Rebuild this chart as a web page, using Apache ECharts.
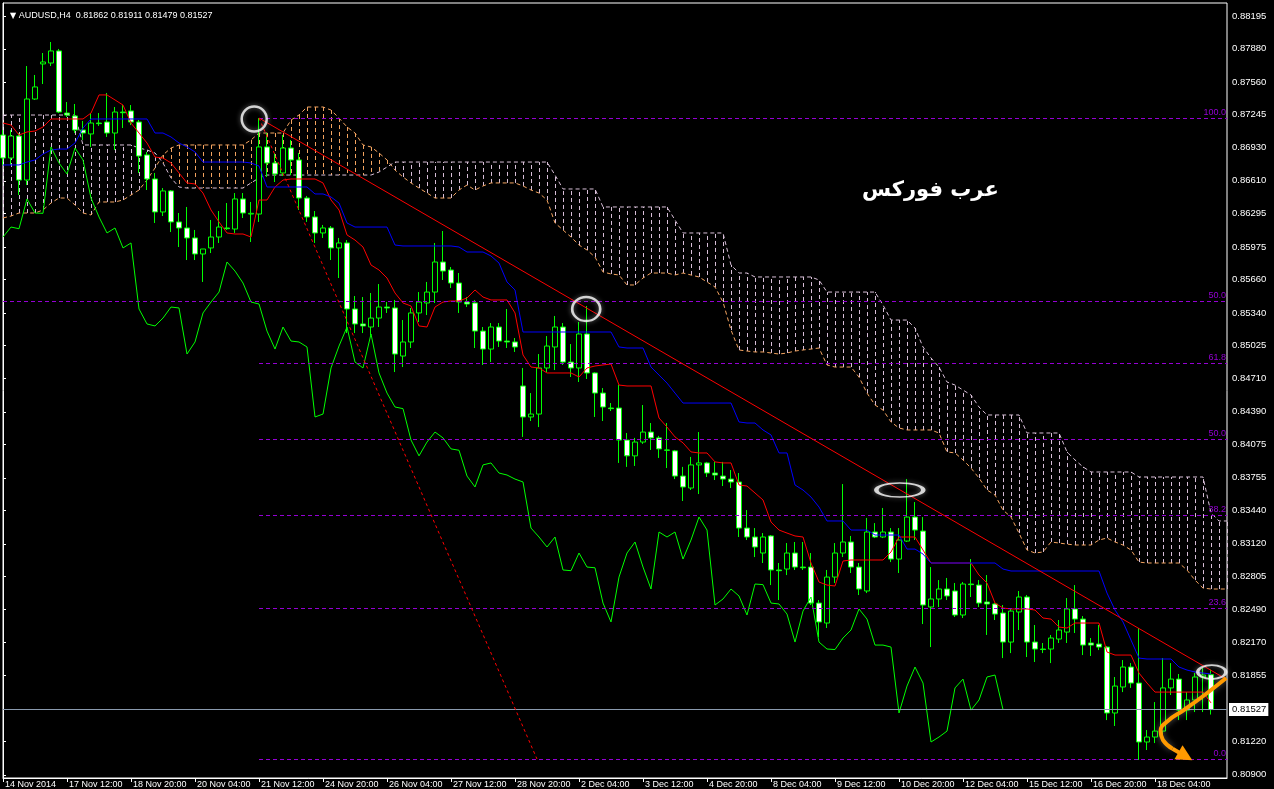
<!DOCTYPE html>
<html><head><meta charset="utf-8">
<script src="https://cdn.jsdelivr.net/npm/echarts@6/dist/echarts.min.js"></script>
<style>html,body{margin:0;padding:0;background:#000;}#c{width:1274px;height:789px;}</style>
</head><body><div id="c"></div>
<script>
// ---- time labels (every 8th H4 bar) ----
const timeLabels = ["14 Nov 2014","17 Nov 12:00","18 Nov 20:00","20 Nov 04:00","21 Nov 12:00","24 Nov 20:00","26 Nov 04:00","27 Nov 12:00","28 Nov 20:00","2 Dec 04:00","3 Dec 12:00","4 Dec 20:00","8 Dec 04:00","9 Dec 12:00","10 Dec 20:00","12 Dec 04:00","15 Dec 12:00","16 Dec 20:00","18 Dec 04:00"];
const yTicks = [0.88195,0.87880,0.87560,0.87245,0.86930,0.86610,0.86295,0.85975,0.85660,0.85340,0.85025,0.84710,0.84390,0.84075,0.83755,0.83440,0.83120,0.82805,0.82490,0.82170,0.81855,0.81220,0.80900];

// ---- candles ----
const opens = [0.87051,0.86830,0.87041,0.86618,0.87397,0.87734,0.87743,0.87859,0.87262,0.87234,
0.87099,0.87061,0.87166,0.87176,0.87070,0.87272,0.87282,0.87176,0.86859,0.86628,
0.86311,0.86513,0.86215,0.86157,0.86061,0.85907,0.85965,0.86070,0.86157,0.86147,
0.86436,0.86291,0.86291,0.86936,0.86782,0.86686,0.86926,0.86811,0.86445,0.86263,
0.86109,0.86157,0.85965,0.86013,0.85378,0.85234,0.85205,0.85291,0.85397,0.85388,
0.84926,0.85061,0.85340,0.85436,0.85541,0.85830,0.85753,0.85628,0.85445,0.85436,
0.85166,0.84993,0.85205,0.85070,0.85061,0.84638,0.84340,0.84368,0.84811,0.85013,
0.85205,0.84868,0.84811,0.85138,0.84763,0.84570,0.84426,0.84426,0.84118,0.83966,
0.84099,0.84195,0.84139,0.84023,0.84014,0.83772,0.83657,0.83879,0.83898,0.83801,
0.83772,0.83743,0.83715,0.83272,0.83186,0.83032,0.83196,0.82869,0.82878,0.83032,
0.82897,0.82897,0.82551,0.82359,0.82801,0.83032,0.83138,0.82897,0.82667,0.83234,
0.83186,0.83234,0.82974,0.83147,0.83378,0.83243,0.82513,0.82590,0.82686,0.82667,
0.82436,0.82734,0.82724,0.82561,0.82542,0.82455,0.82176,0.82465,0.82609,0.82176,
0.82109,0.82109,0.82205,0.82272,0.82494,0.82397,0.82167,0.82157,0.82128,0.81494,
0.81744,0.81936,0.81782,0.81215,0.81263,0.81320,0.81735,0.81820,0.81522,0.81619,
0.81840,0.81862];
const highs = [0.87099,0.87099,0.87070,0.87714,0.87628,0.87839,0.87945,0.87878,0.87368,0.87349,
0.87186,0.87262,0.87262,0.87455,0.87320,0.87339,0.87339,0.87195,0.86888,0.86686,
0.86541,0.86522,0.86301,0.86359,0.86138,0.85955,0.86234,0.86320,0.86397,0.86493,
0.86493,0.86407,0.87214,0.87070,0.86878,0.87051,0.87003,0.86878,0.86465,0.86320,
0.86186,0.86176,0.86061,0.86041,0.85503,0.85493,0.85532,0.85618,0.85445,0.85465,
0.85272,0.85388,0.85541,0.85638,0.86013,0.86128,0.85782,0.85724,0.85493,0.85465,
0.85205,0.85243,0.85243,0.85378,0.85099,0.84811,0.84570,0.84945,0.85118,0.85311,
0.85243,0.85041,0.85253,0.85407,0.84770,0.84618,0.84474,0.84647,0.84186,0.84139,
0.84455,0.84282,0.84158,0.84282,0.84023,0.83860,0.83956,0.84195,0.83908,0.83908,
0.83908,0.83830,0.83801,0.83445,0.83272,0.83224,0.83205,0.82936,0.83128,0.83138,
0.83138,0.83032,0.82580,0.82869,0.83128,0.83695,0.83196,0.82936,0.83369,0.83320,
0.83465,0.83272,0.83272,0.83743,0.83522,0.83378,0.82897,0.82772,0.82792,0.82744,
0.82753,0.82974,0.82772,0.82820,0.82551,0.82532,0.82494,0.82667,0.82628,0.82340,
0.82167,0.82244,0.82388,0.82599,0.82724,0.82426,0.82215,0.82340,0.82138,0.81840,
0.82003,0.81974,0.82311,0.81330,0.81599,0.82022,0.81974,0.81869,0.81695,0.81878,
0.81926,0.81911];
const lows = [0.86763,0.86763,0.86474,0.86570,0.87388,0.87541,0.87714,0.87262,0.87224,0.87070,
0.87003,0.86936,0.87138,0.87032,0.86907,0.87118,0.87147,0.86686,0.86522,0.86205,
0.86272,0.86118,0.85974,0.85849,0.85849,0.85638,0.85916,0.86013,0.86138,0.86109,
0.86253,0.86022,0.86215,0.86647,0.86599,0.86657,0.86666,0.86330,0.86215,0.86013,
0.86061,0.85849,0.85676,0.85147,0.85147,0.85147,0.85128,0.85205,0.85340,0.84772,
0.84820,0.85003,0.85253,0.85320,0.85436,0.85657,0.85580,0.85340,0.85397,0.85003,
0.84840,0.84868,0.85013,0.85003,0.84965,0.84148,0.84301,0.84243,0.84772,0.84791,
0.84840,0.84724,0.84676,0.84705,0.84340,0.84301,0.84397,0.83898,0.83860,0.83869,
0.84081,0.84023,0.83946,0.83849,0.83743,0.83532,0.83638,0.83599,0.83763,0.83734,
0.83676,0.83657,0.83186,0.83157,0.82993,0.82936,0.82724,0.82580,0.82820,0.82869,
0.82869,0.82532,0.82224,0.82311,0.82744,0.82993,0.82840,0.82628,0.82647,0.83176,
0.83176,0.82945,0.82840,0.83138,0.83157,0.82349,0.82128,0.82513,0.82580,0.82417,
0.82407,0.82609,0.82513,0.82244,0.82388,0.82022,0.82070,0.82292,0.82032,0.81984,
0.82070,0.81974,0.82167,0.82167,0.82263,0.82051,0.82042,0.82099,0.81426,0.81369,
0.81695,0.81735,0.81042,0.81138,0.81205,0.81263,0.81667,0.81426,0.81426,0.81503,
0.81503,0.81479];
const closes = [0.86830,0.87041,0.86618,0.87397,0.87513,0.87753,0.87859,0.87272,0.87243,0.87099,
0.87070,0.87166,0.87160,0.87070,0.87272,0.87265,0.87176,0.86849,0.86628,0.86311,
0.86513,0.86215,0.86157,0.86061,0.85907,0.85955,0.86070,0.86166,0.86150,0.86436,
0.86301,0.86298,0.86936,0.86782,0.86676,0.86926,0.86811,0.86445,0.86263,0.86109,
0.86157,0.85965,0.86013,0.85378,0.85234,0.85215,0.85291,0.85397,0.85388,0.84945,
0.85061,0.85340,0.85445,0.85541,0.85830,0.85743,0.85628,0.85445,0.85426,0.85166,
0.84993,0.85205,0.85070,0.85061,0.85013,0.84340,0.84368,0.84811,0.85022,0.85205,
0.84868,0.84811,0.85138,0.84763,0.84570,0.84436,0.84420,0.84118,0.83966,0.84099,
0.84195,0.84139,0.84033,0.84020,0.83772,0.83667,0.83879,0.83898,0.83801,0.83782,
0.83743,0.83715,0.83272,0.83186,0.83090,0.83186,0.82869,0.82862,0.83032,0.82897,
0.82890,0.82551,0.82369,0.82801,0.83032,0.83138,0.82897,0.82686,0.83234,0.83186,
0.83234,0.82974,0.83157,0.83378,0.83253,0.82532,0.82590,0.82686,0.82619,0.82436,
0.82734,0.82728,0.82551,0.82542,0.82445,0.82176,0.82474,0.82609,0.82176,0.82109,
0.82104,0.82215,0.82292,0.82494,0.82397,0.82147,0.82147,0.82128,0.81494,0.81753,
0.81936,0.81782,0.81215,0.81263,0.81320,0.81735,0.81820,0.81522,0.81619,0.81840,
0.81859,0.81527];

// ---- Ichimoku lines ----
const tenkan = [0.87166,0.87147,0.87051,0.87080,0.87089,0.87128,0.87205,0.87205,0.87205,0.87205,
0.87205,0.87262,0.87436,0.87436,0.87388,0.87339,0.87166,0.87070,0.86974,0.86839,
0.86830,0.86782,0.86686,0.86590,0.86580,0.86493,0.86330,0.86215,0.86109,0.86099,
0.86099,0.86070,0.86426,0.86426,0.86551,0.86618,0.86628,0.86628,0.86628,0.86628,
0.86590,0.86426,0.86330,0.86090,0.86041,0.85974,0.85801,0.85753,0.85676,0.85532,
0.85436,0.85407,0.85215,0.85205,0.85397,0.85445,0.85455,0.85455,0.85484,0.85561,
0.85493,0.85465,0.85465,0.85465,0.85340,0.84936,0.84820,0.84811,0.84763,0.84763,
0.84763,0.84763,0.84724,0.84811,0.84830,0.84840,0.84849,0.84647,0.84638,0.84638,
0.84638,0.84638,0.84330,0.84243,0.84148,0.84091,0.84004,0.83994,0.83994,0.83908,
0.83898,0.83898,0.83686,0.83676,0.83609,0.83542,0.83330,0.83253,0.83224,0.83196,
0.83186,0.82936,0.82753,0.82724,0.82715,0.82955,0.82965,0.82965,0.82965,0.82965,
0.82965,0.83042,0.83186,0.83186,0.83186,0.83061,0.82936,0.82936,0.82936,0.82936,
0.82936,0.82936,0.82820,0.82744,0.82551,0.82503,0.82494,0.82494,0.82494,0.82484,
0.82407,0.82397,0.82320,0.82311,0.82359,0.82359,0.82359,0.82359,0.82080,0.82051,
0.82051,0.82051,0.81878,0.81782,0.81695,0.81695,0.81695,0.81695,0.81695,0.81695,
0.81695,0.81591];
const kijun = [0.86763,0.86763,0.86763,0.86791,0.86811,0.86868,0.86907,0.86916,0.86916,0.86974,
0.87118,0.87205,0.87205,0.87205,0.87205,0.87205,0.87205,0.87205,0.87205,0.87070,
0.87070,0.87032,0.86974,0.86936,0.86888,0.86791,0.86791,0.86791,0.86791,0.86791,
0.86791,0.86782,0.86753,0.86551,0.86551,0.86551,0.86551,0.86551,0.86551,0.86484,
0.86484,0.86455,0.86397,0.86205,0.86166,0.86166,0.86166,0.86166,0.86166,0.85993,
0.85984,0.85984,0.85984,0.85984,0.85984,0.85984,0.85984,0.85974,0.85926,0.85926,
0.85926,0.85888,0.85820,0.85638,0.85561,0.85157,0.85157,0.85157,0.85157,0.85157,
0.85157,0.85157,0.85157,0.85157,0.85157,0.85157,0.85157,0.85013,0.85003,0.85003,
0.85003,0.84820,0.84743,0.84666,0.84570,0.84474,0.84474,0.84474,0.84474,0.84474,
0.84474,0.84474,0.84292,0.84282,0.84282,0.84215,0.84167,0.83994,0.83994,0.83686,
0.83638,0.83570,0.83474,0.83340,0.83340,0.83340,0.83253,0.83253,0.83253,0.83205,
0.83205,0.83205,0.83205,0.83070,0.83070,0.83022,0.82936,0.82936,0.82936,0.82936,
0.82936,0.82936,0.82936,0.82936,0.82936,0.82878,0.82859,0.82859,0.82859,0.82859,
0.82859,0.82859,0.82859,0.82859,0.82859,0.82859,0.82859,0.82859,0.82647,0.82484,
0.82369,0.82195,0.82022,0.82013,0.82013,0.82013,0.82013,0.81936,0.81907,0.81888,
0.81878,0.81869];
const spanA = [0.86253,0.86272,0.86301,0.86301,0.86301,0.86330,0.86397,0.86445,0.86445,0.86378,
0.86301,0.86282,0.86407,0.86407,0.86407,0.86426,0.86474,0.86522,0.86618,0.86734,
0.86859,0.86926,0.86955,0.86955,0.86955,0.86955,0.86955,0.86955,0.86955,0.86955,
0.86955,0.87003,0.87070,0.87070,0.87070,0.87070,0.87195,0.87243,0.87320,0.87320,
0.87320,0.87291,0.87214,0.87128,0.87070,0.86955,0.86936,0.86878,0.86811,0.86714,
0.86647,0.86590,0.86541,0.86493,0.86445,0.86445,0.86445,0.86522,0.86570,0.86522,
0.86561,0.86590,0.86590,0.86590,0.86590,0.86561,0.86522,0.86493,0.86426,0.86205,
0.86138,0.86070,0.85993,0.85945,0.85878,0.85734,0.85715,0.85705,0.85609,0.85609,
0.85676,0.85724,0.85724,0.85724,0.85705,0.85724,0.85705,0.85686,0.85638,0.85590,
0.85445,0.85176,0.84984,0.84974,0.84965,0.84965,0.84955,0.84945,0.84955,0.84974,
0.84984,0.84993,0.85003,0.84840,0.84820,0.84820,0.84820,0.84724,0.84570,0.84455,
0.84407,0.84292,0.84234,0.84215,0.84215,0.84215,0.84215,0.84186,0.84004,0.83994,
0.83927,0.83849,0.83753,0.83638,0.83590,0.83445,0.83378,0.83224,0.83061,0.83032,
0.83042,0.83138,0.83128,0.83118,0.83109,0.83109,0.83109,0.83157,0.83176,0.83138,
0.83109,0.83061,0.82945,0.82936,0.82936,0.82936,0.82936,0.82936,0.82869,0.82772,
0.82695,0.82686,0.82686,0.82686];
const spanB = [0.87243,0.87243,0.87243,0.87243,0.87243,0.87243,0.87243,0.87243,0.87243,0.87243,
0.86955,0.86955,0.86955,0.86955,0.86955,0.86955,0.86955,0.86926,0.86907,0.86878,
0.86782,0.86638,0.86551,0.86541,0.86541,0.86541,0.86541,0.86541,0.86541,0.86541,
0.86541,0.86590,0.86638,0.86666,0.86666,0.86666,0.86666,0.86666,0.86666,0.86666,
0.86666,0.86666,0.86666,0.86666,0.86666,0.86666,0.86666,0.86695,0.86743,0.86791,
0.86791,0.86791,0.86791,0.86791,0.86791,0.86791,0.86791,0.86791,0.86791,0.86791,
0.86791,0.86791,0.86791,0.86791,0.86791,0.86791,0.86791,0.86791,0.86791,0.86666,
0.86532,0.86532,0.86532,0.86532,0.86532,0.86359,0.86359,0.86359,0.86359,0.86359,
0.86359,0.86359,0.86359,0.86359,0.86234,0.86109,0.86109,0.86109,0.86109,0.86109,
0.86109,0.85801,0.85724,0.85724,0.85686,0.85686,0.85686,0.85686,0.85686,0.85686,
0.85686,0.85686,0.85657,0.85541,0.85541,0.85541,0.85541,0.85541,0.85541,0.85541,
0.85416,0.85272,0.85272,0.85272,0.85195,0.85013,0.84907,0.84820,0.84676,0.84647,
0.84599,0.84551,0.84436,0.84359,0.84359,0.84359,0.84359,0.84359,0.84186,0.84186,
0.84186,0.84186,0.84186,0.84004,0.83927,0.83860,0.83811,0.83811,0.83811,0.83811,
0.83811,0.83811,0.83763,0.83763,0.83763,0.83763,0.83763,0.83763,0.83763,0.83763,
0.83763,0.83417,0.83340,0.83340];
const chikouShift = 26;

// ---- Fibonacci levels / drawn objects ----
const fibLabels = ["100.0","50.0","61.8","50.0","38.2","23.6","0.0"];
const fibValues = [0.87214,0.85455,0.84859,0.84128,0.83397,0.82503,0.81051];
const fibStarts = [32,0,32,32,32,32,32];
const lastPrice = 0.81527;
const trendSolid = [[32,0.87214],[153,0.81815]];
const trendDotted = [[32,0.87214],[66.75,0.81051]];
const marks = [[31.4,0.87205],[72.9,0.85378],[112.1,0.83638],[151.1,0.81888]];
const arrowPath = [[152.9,0.81830],[150.2,0.81667],[147.6,0.81522],[145.6,0.81417],[144.7,0.81320],[145.0,0.81234],[146.2,0.81150]];
const arrowEnd = [[146.2,0.81150],[147.8,0.81078]];

const markSizes = [[25,25],[28,24],[47,14],[28,14]];
const xTickIdx = timeLabels.map((_, k) => k * 8);
const SANDY = '#f4a460', THISTLE = '#d8bfd8', VIOLET = '#9400d3', LIME = '#00ff00', ORANGE = '#ff9a00';
const FONT = 'Liberation Sans, Arial, sans-serif';

const chart = echarts.init(document.getElementById('c'));
const last = opens.length - 1;
chart.setOption({
  animation: false,
  backgroundColor: '#000',
  title: [
    {text: '{a|\u25BC} AUDUSD,H4  ' + [opens[last], highs[last], lows[last], closes[last]].map(v => v.toFixed(5)).join(' '),
     left: 5, top: 6,
     textStyle: {color: '#fff', fontSize: 9, fontWeight: 'normal', fontFamily: FONT,
       rich: {a: {fontSize: 8, color: '#fff', fontFamily: 'DejaVu Sans'}}}},
    {text: 'عرب فوركس', left: 857, top: 175,
     textStyle: {color: '#fff', fontSize: 21, fontWeight: 'bold', fontFamily: 'DejaVu Sans'}}
  ],
  grid: {left: 3, right: 47, top: 3, bottom: 11, show: true, borderColor: '#fff', borderWidth: 1, backgroundColor: '#000'},
  xAxis: {
    type: 'value', min: 0, max: 153,
    axisLine: {show: true, lineStyle: {color: '#fff'}},
    splitLine: {show: false},
    axisTick: {show: true, length: 4, lineStyle: {color: '#fff'}, customValues: xTickIdx},
    axisLabel: {customValues: xTickIdx, formatter: v => timeLabels[Math.round(v / 8)],
      color: '#fff', fontSize: 9, fontFamily: FONT, align: 'left', margin: 2, padding: [0, 0, 0, 2]}
  },
  yAxis: {
    type: 'value', position: 'right', min: 0.80869, max: 0.88320,
    axisLine: {show: true, lineStyle: {color: '#fff'}},
    splitLine: {show: false},
    axisTick: {show: true, length: 3, lineStyle: {color: '#fff'}, customValues: yTicks},
    axisLabel: {customValues: yTicks, formatter: v => v.toFixed(5), color: '#fff', fontSize: 9.5, fontFamily: FONT, margin: 5}
  },
  series: [
    {
      name: 'cloud', type: 'custom', z: 1, silent: true,
      data: spanA.map((a, i) => [i, a, spanB[i]]),
      renderItem: (params, api) => {
        const x = api.value(0), a = api.value(1), b = api.value(2);
        const p1 = api.coord([x, a]), p2 = api.coord([x, b]);
        return {type: 'line', shape: {x1: Math.round(p1[0]) + 0.5, y1: p1[1], x2: Math.round(p2[0]) + 0.5, y2: p2[1]},
          style: {stroke: a > b ? SANDY : THISTLE, lineWidth: 1, lineDash: [4, 3]}};
      }
    },
    {name: 'Senkou A', type: 'line', z: 1, silent: true, symbol: 'none', data: spanA.map((v, i) => [i, v]),
      lineStyle: {color: SANDY, width: 1, type: [4, 3]}},
    {name: 'Senkou B', type: 'line', z: 1, silent: true, symbol: 'none', data: spanB.map((v, i) => [i, v]),
      lineStyle: {color: THISTLE, width: 1, type: [4, 3]}},
    {
      name: 'levels', type: 'line', z: 2, silent: true, symbol: 'none', data: [],
      markLine: {
        symbol: ['none', 'none'], silent: true, animation: false,
        lineStyle: {color: VIOLET, type: [4, 3], width: 1},
        label: {show: true, position: 'insideEndTop', color: VIOLET, fontSize: 9, fontFamily: FONT, distance: 1, formatter: '{b}'},
        data: fibValues.map((v, k) => [{name: fibLabels[k], coord: [fibStarts[k], v]}, {coord: [153, v]}])
      }
    },
    {
      name: 'price', type: 'line', z: 2, silent: true, symbol: 'none', data: [],
      markLine: {
        symbol: ['none', 'none'], silent: true, animation: false,
        lineStyle: {color: '#8a9aae', type: 'solid', width: 1},
        label: {show: true, position: 'end', distance: 2, formatter: lastPrice.toFixed(5), color: '#000',
          backgroundColor: '#fff', padding: [2, 2, 1, 3], fontSize: 9.5, fontFamily: FONT},
        data: [[{coord: [0, lastPrice]}, {coord: [153, lastPrice]}]]
      }
    },
    {
      name: 'AUDUSD', type: 'candlestick', z: 3, silent: true, barWidth: 5,
      data: opens.map((o, i) => [i, o, closes[i], lows[i], highs[i]]),
      itemStyle: {color: '#000', color0: '#fff', borderColor: LIME, borderColor0: LIME, borderWidth: 1}
    },
    {name: 'Tenkan', type: 'line', z: 4, silent: true, symbol: 'none', data: tenkan.map((v, i) => [i, v]),
      lineStyle: {color: '#ff0000', width: 1}},
    {name: 'Kijun', type: 'line', z: 4, silent: true, symbol: 'none', data: kijun.map((v, i) => [i, v]),
      lineStyle: {color: '#0000ff', width: 1}},
    {name: 'Chikou', type: 'line', z: 4, silent: true, symbol: 'none',
      data: closes.slice(chikouShift).map((v, i) => [i, v]),
      lineStyle: {color: LIME, width: 1}},
    {name: 'trend', type: 'line', z: 5, silent: true, symbol: 'none', data: trendSolid,
      lineStyle: {color: '#ff0000', width: 1}},
    {name: 'trend2', type: 'line', z: 5, silent: true, symbol: 'none', data: trendDotted,
      lineStyle: {color: '#ff0000', width: 1, type: [3, 3]}},
    {name: 'marks', type: 'scatter', z: 6, silent: true, symbol: 'circle',
      symbolSize: (v, p) => markSizes[p.dataIndex], data: marks,
      itemStyle: {color: 'rgba(0,0,0,0)', borderColor: '#fff', borderWidth: 2.5, shadowBlur: 5, shadowColor: 'rgba(255,255,255,0.5)'}},
    {name: 'arrow', type: 'line', z: 7, silent: true, symbol: 'none', smooth: 0.5, data: arrowPath,
      lineStyle: {color: ORANGE, width: 4, shadowBlur: 6, shadowColor: 'rgba(255,255,255,0.35)'}},
    {name: 'arrowHead', type: 'lines', coordinateSystem: 'cartesian2d', z: 7, silent: true,
      symbol: ['none', 'triangle'], symbolSize: 16,
      data: [{coords: arrowEnd}],
      lineStyle: {color: ORANGE, width: 4, opacity: 1, curveness: 0}}
  ]
});
</script>
</body></html>
